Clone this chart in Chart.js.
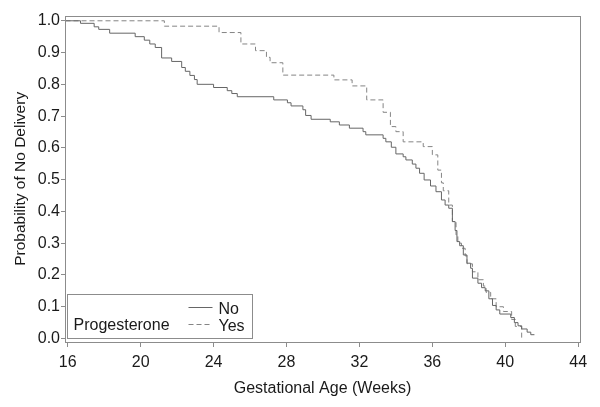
<!DOCTYPE html>
<html>
<head>
<meta charset="utf-8">
<script src="https://cdn.jsdelivr.net/npm/chart.js@4.4.1/dist/chart.umd.min.js"></script>
<style>
  html, body { margin: 0; padding: 0; background: #fff; }
  #wrap { width: 600px; height: 407px; }
</style>
</head>
<body>
<div id="wrap"><canvas id="km" width="600" height="407"></canvas></div>
<script>
// Kaplan-Meier steps (week of drop, survival after drop)
const weeksNo = [15, 16.7, 17.45, 17.7, 18.3, 19.7, 20.2, 20.5, 20.8, 21.15, 21.7, 22.25, 22.45, 22.7, 22.95, 23.1,
  24.0, 24.75, 25.0, 25.3, 27.3, 28.05, 28.25, 28.9, 29.05, 29.35, 30.4, 30.9, 31.45, 32.2, 32.35, 33.3, 33.45,
  33.75, 34.0, 34.4, 34.55, 34.9, 35.1, 35.3, 35.55, 35.9, 36.2, 36.5, 36.7, 36.9, 37.1, 37.25, 37.35, 37.5, 37.7,
  37.9, 38.1, 38.2, 38.5, 38.7, 38.9, 39.1, 39.3, 39.5, 39.7, 40.3, 40.5, 40.7, 40.9, 41.2, 41.4, 41.6];
const survNo = [1.0, 0.992, 0.981, 0.973, 0.961, 0.950, 0.939, 0.927, 0.916, 0.883, 0.872, 0.853, 0.841, 0.828, 0.815, 0.800,
  0.790, 0.780, 0.771, 0.761, 0.751, 0.742, 0.732, 0.720, 0.702, 0.690, 0.682, 0.672, 0.662, 0.651, 0.641, 0.630, 0.619,
  0.602, 0.581, 0.572, 0.562, 0.549, 0.536, 0.520, 0.499, 0.480, 0.462, 0.436, 0.420, 0.410, 0.368, 0.340, 0.305, 0.292, 0.263,
  0.237, 0.221, 0.190, 0.174, 0.160, 0.150, 0.125, 0.104, 0.090, 0.077, 0.066, 0.050, 0.040, 0.030, 0.020, 0.012, 0.012];

const weeksYes = [15, 21.3, 24.3, 25.5, 26.3, 26.9, 27.1, 27.8, 30.6, 31.6, 32.4, 33.3, 33.7, 34.0, 34.4, 35.5, 36.0,
  36.3, 36.5, 36.6, 36.9, 37.1, 37.3, 37.4, 37.6, 37.8, 37.9, 38.2, 38.5, 38.8, 38.95, 39.2, 39.5, 39.9, 40.35, 40.55, 40.9];
const survYes = [1.0, 0.983, 0.963, 0.927, 0.906, 0.885, 0.868, 0.829, 0.814, 0.795, 0.751, 0.712, 0.667, 0.651, 0.619, 0.604, 0.578,
  0.530, 0.490, 0.465, 0.420, 0.368, 0.326, 0.300, 0.284, 0.260, 0.235, 0.210, 0.185, 0.165, 0.145, 0.125, 0.100, 0.085, 0.060, 0.038, 0.0];

const xTicks = [16, 20, 24, 28, 32, 36, 40, 44];
const yTicks = [0, 0.1, 0.2, 0.3, 0.4, 0.5, 0.6, 0.7, 0.8, 0.9, 1.0];
const groupNames = ["No", "Yes"];
const legendTitle = "Progesterone";

const FONT = "'Liberation Sans', Arial, sans-serif";
const FRAME = '#8c8c8c';
const TEXT = '#1a1a1a';
const lineStyles = [
  { color: '#666666', dash: [] },
  { color: '#858585', dash: [5, 3] }
];

function toPoints(xs, ys) {
  return xs.map((x, i) => ({ x: x, y: ys[i] }));
}

// box around the plot area plus the legend in the lower left corner
const framePlugin = {
  id: 'frame',
  afterDatasetsDraw(chart) {
    const ctx = chart.ctx;
    const a = chart.chartArea;
    ctx.save();
    ctx.strokeStyle = FRAME;
    ctx.lineWidth = 1;
    ctx.strokeRect(Math.round(a.left) + 0.5, Math.round(a.top) + 0.5,
      Math.round(a.right - a.left), Math.round(a.bottom - a.top));

    const bx = Math.round(a.left) + 2.5, by = Math.round(a.bottom) - 47.5;
    const bw = 185, bh = 44;
    ctx.fillStyle = '#fff';
    ctx.fillRect(bx, by, bw, bh);
    ctx.strokeRect(bx, by, bw, bh);

    ctx.font = '16px ' + FONT;
    ctx.fillStyle = TEXT;
    ctx.textBaseline = 'middle';
    ctx.textAlign = 'left';
    ctx.fillText(legendTitle, bx + 6, by + 31);
    groupNames.forEach((name, i) => {
      const ly = by + 12 + i * 17.5;
      ctx.strokeStyle = lineStyles[i].color;
      ctx.setLineDash(lineStyles[i].dash);
      ctx.beginPath();
      ctx.moveTo(bx + 121, Math.round(ly) + 0.5);
      ctx.lineTo(bx + 145, Math.round(ly) + 0.5);
      ctx.stroke();
      ctx.setLineDash([]);
      ctx.fillText(name, bx + 151, ly + 3);
    });
    ctx.restore();
  }
};

new Chart(document.getElementById('km'), {
  type: 'line',
  data: {
    datasets: [
      {
        label: groupNames[0],
        data: toPoints(weeksNo, survNo),
        borderColor: lineStyles[0].color,
        borderWidth: 1,
        stepped: true,
        pointRadius: 0,
        fill: false
      },
      {
        label: groupNames[1],
        data: toPoints(weeksYes, survYes),
        borderColor: lineStyles[1].color,
        borderDash: lineStyles[1].dash,
        borderWidth: 1,
        stepped: true,
        pointRadius: 0,
        fill: false
      }
    ]
  },
  options: {
    responsive: false,
    animation: false,
    layout: { padding: { left: 0, right: 20, top: 15.7, bottom: 0 } },
    plugins: {
      legend: { display: false },
      tooltip: { enabled: false }
    },
    scales: {
      x: {
        type: 'linear',
        min: 15.85,
        max: 44.1,
        afterBuildTicks: axis => { axis.ticks = xTicks.map(v => ({ value: v })); },
        afterFit: axis => { axis.height = 65; },
        border: { display: false },
        grid: { drawOnChartArea: false, drawTicks: true, tickLength: 5, color: FRAME },
        ticks: {
          autoSkip: false,
          maxRotation: 0,
          padding: 5.5,
          color: TEXT,
          font: { family: FONT, size: 16 },
          callback: v => String(v)
        },
        title: {
          display: true,
          text: 'Gestational Age (Weeks)',
          color: TEXT,
          font: { family: FONT, size: 16 },
          padding: { top: 0, bottom: 8.4 }
        }
      },
      y: {
        type: 'linear',
        min: -0.011,
        max: 1.016,
        afterBuildTicks: axis => { axis.ticks = yTicks.map(v => ({ value: v })); },
        afterFit: axis => { axis.width = 65; },
        border: { display: false },
        grid: { drawOnChartArea: false, drawTicks: true, tickLength: 4, color: FRAME },
        ticks: {
          padding: 1,
          color: TEXT,
          font: { family: FONT, size: 16 },
          callback: v => v.toFixed(1)
        },
        title: {
          display: true,
          text: 'Probability of No Delivery',
          color: TEXT,
          font: { family: FONT, size: 15.5 },
          padding: { top: 11.6, bottom: 0 }
        }
      }
    }
  },
  plugins: [framePlugin]
});
</script>
</body>
</html>
